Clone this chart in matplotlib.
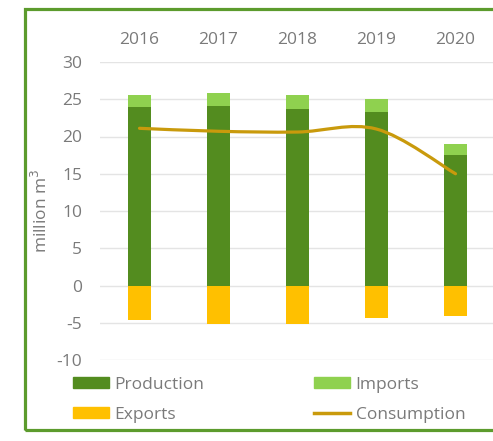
import matplotlib.pyplot as plt
import numpy as np
from matplotlib.patches import Rectangle, PathPatch, Patch
from matplotlib.lines import Line2D
from matplotlib.path import Path

plt.rcParams['font.family'] = ['Open Sans', 'DejaVu Sans']
plt.rcParams['axes.unicode_minus'] = False

years = ['2016', '2017', '2018', '2019', '2020']
production = [24.0, 24.1, 23.7, 23.3, 17.5]
imports = [1.6, 1.7, 1.9, 1.7, 1.45]
exports = [-4.6, -5.2, -5.2, -4.4, -4.1]
consumption = [21.1, 20.7, 20.6, 21.0, 15.0]

c_prod = '#538c1f'
c_imp = '#8fd14f'
c_exp = '#ffc000'
c_cons = '#c99a0c'
c_text = '#7a7a7a'

fig = plt.figure(figsize=(4.93, 4.41), dpi=100)
ax = fig.add_axes([100 / 493, 1 - 360 / 441, 395 / 493, 298 / 441])

x = np.arange(len(years))
w = 0.3
ax.bar(x, production, w, color=c_prod, zorder=2)
ax.bar(x, imports, w, bottom=production, color=c_imp, zorder=2)
ax.bar(x, exports, w, color=c_exp, zorder=2)

# smoothed consumption line (Catmull-Rom segments as cubic beziers)
pts = np.column_stack([x, consumption]).astype(float)
ext = np.vstack([pts[0], pts, pts[-1]])
verts = [tuple(pts[0])]
codes = [Path.MOVETO]
for i in range(len(pts) - 1):
    p0, p1, p2, p3 = ext[i], ext[i + 1], ext[i + 2], ext[i + 3]
    c1 = p1 + (p2 - p0) / 6
    c2 = p2 - (p3 - p1) / 6
    verts += [tuple(c1), tuple(c2), tuple(p2)]
    codes += [Path.CURVE4] * 3
ax.add_patch(PathPatch(Path(verts, codes), facecolor='none', edgecolor=c_cons,
                       lw=2.3, capstyle='round', zorder=3))

ax.set_xlim(-0.5, len(years) - 0.5)
ax.set_ylim(-10, 30)
ax.set_yticks(range(-10, 31, 5))
ax.set_xticks(x)
ax.set_xticklabels(years)
ax.xaxis.tick_top()
ax.tick_params(axis='x', length=0, pad=10, labelsize=12.5, labelcolor=c_text)
ax.tick_params(axis='y', length=0, pad=13, labelsize=12.5, labelcolor=c_text)
ax.grid(axis='y', color='#e4e4e4', lw=1, zorder=0)
for s in ax.spines.values():
    s.set_visible(False)

fig.text(41 / 493, 1 - 211 / 441, 'million m$^3$', rotation=90, ha='center',
         va='center', fontsize=12.5, color=c_text)

handles = [Patch(color=c_prod), Patch(color=c_exp), Patch(color=c_imp),
           Line2D([], [], color=c_cons, lw=2.5)]
labels = ['Production', 'Exports', 'Imports', 'Consumption']
fig.legend(handles, labels, ncol=2, loc='upper left',
           bbox_to_anchor=(66 / 493, 1 - 370 / 441), frameon=False,
           fontsize=12.5, labelcolor=c_text, handlelength=2.1,
           handleheight=0.6, handletextpad=0.3, columnspacing=6.3,
           labelspacing=0.8, borderaxespad=0)

# green frame around the chart
fig.patches.append(Rectangle((25 / 493, 1 - 430 / 441), 500 / 493, 421 / 441,
                             transform=fig.transFigure, fill=False,
                             edgecolor='#5c9b2d', lw=2.3))

fig.savefig('out.png', dpi=100)
